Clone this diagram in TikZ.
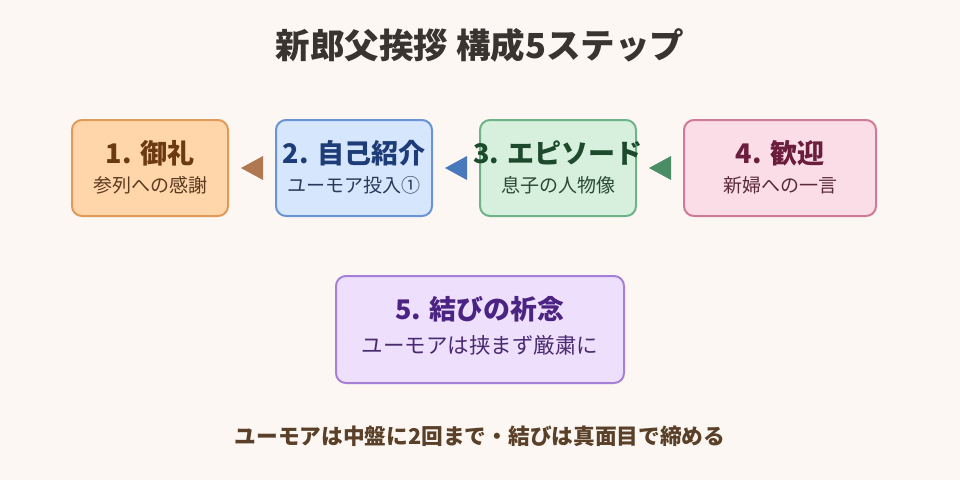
\documentclass[tikz,border=0pt]{standalone}
\usepackage{fontspec}
\setmainfont{Noto Sans CJK JP}
\usetikzlibrary{calc}
\definecolor{bg}{HTML}{FCF7F2}
\definecolor{f1}{HTML}{FFD5AA}\definecolor{d1}{HTML}{E09A5A}\definecolor{t1}{HTML}{6B3A12}\definecolor{s1}{HTML}{5A3A20}
\definecolor{f2}{HTML}{D6E6FC}\definecolor{d2}{HTML}{6B93D6}\definecolor{t2}{HTML}{1E3C78}\definecolor{s2}{HTML}{2A3A5A}
\definecolor{f3}{HTML}{D6F0DD}\definecolor{d3}{HTML}{6DB387}\definecolor{t3}{HTML}{1D4A2C}\definecolor{s3}{HTML}{2A4A35}
\definecolor{f4}{HTML}{FADDE7}\definecolor{d4}{HTML}{D07A9A}\definecolor{t4}{HTML}{6B1E3C}\definecolor{s4}{HTML}{5A2A3A}
\definecolor{f5}{HTML}{EEE0FC}\definecolor{d5}{HTML}{A67FD6}\definecolor{t5}{HTML}{4B2382}\definecolor{s5}{HTML}{4A2A70}
\definecolor{a1}{HTML}{B07850}\definecolor{a2}{HTML}{4A78BC}\definecolor{a3}{HTML}{4A8C64}
\definecolor{ttl}{HTML}{3A3430}\definecolor{ftr}{HTML}{5A4028}
\tikzset{
  stepbox/.style={draw, line width=2pt, rounded corners=10pt, inner sep=0pt},
  boxtitle/.style={font=\fontsize{27}{32}\selectfont\bfseries, inner sep=0pt, anchor=center},
  boxsub/.style={font=\fontsize{19}{23}\selectfont, inner sep=0pt, anchor=center},
}
\begin{document}
\begin{tikzpicture}[x=1pt,y=-1pt]
\fill[bg] (0,0) rectangle (960,480);
\useasboundingbox (0,0) rectangle (960,480);
\node[font=\fontsize{34.5}{40}\selectfont\bfseries, text=ttl, inner sep=0pt] (title) at (480,45) {新郎父挨拶 構成5ステップ};
% boxes
\node[stepbox, fill=f1, draw=d1, minimum width=156pt, minimum height=96pt] (b1) at (150,168) {};
\node[stepbox, fill=f2, draw=d2, minimum width=156pt, minimum height=96pt] (b2) at (354,168) {};
\node[stepbox, fill=f3, draw=d3, minimum width=156pt, minimum height=96pt] (b3) at (558,168) {};
\node[stepbox, fill=f4, draw=d4, minimum width=192pt, minimum height=96pt] (b4) at (780,168) {};
\node[stepbox, fill=f5, draw=d5, minimum width=288pt, minimum height=107pt] (b5) at (480,329.5) {};
% texts
\node[boxtitle, text=t1] (b1t) at (150,153) {1. 御礼};
\node[boxsub, text=s1] (b1s) at (150,185) {参列への感謝};
\node[boxtitle, text=t2] (b2t) at (354,153) {2. 自己紹介};
\node[boxsub, text=s2] (b2s) at (354,185) {ユーモア投入①};
\node[boxtitle, text=t3] (b3t) at (558,153) {3. エピソード};
\node[boxsub, text=s3] (b3s) at (558,185) {息子の人物像};
\node[boxtitle, text=t4] (b4t) at (780,153) {4. 歓迎};
\node[boxsub, text=s4] (b4s) at (780,185) {新婦への一言};
\node[boxtitle, text=t5] (b5t) at (480,309) {5. 結びの祈念};
\node[font=\fontsize{21.5}{26}\selectfont, text=s5, inner sep=0pt] (b5s) at (480,345) {ユーモアは挟まず厳粛に};
% arrows (triangle heads pointing left)
\fill[a1] ($(b2.west)+(-12,-12)$) -- ($(b2.west)+(-12,12)$) -- ($(b1.east)+(12,0)$) -- cycle;
\fill[a2] ($(b3.west)+(-12,-12)$) -- ($(b3.west)+(-12,12)$) -- ($(b2.east)+(12,0)$) -- cycle;
\fill[a3] ($(b4.west)+(-12,-12)$) -- ($(b4.west)+(-12,12)$) -- ($(b3.east)+(12,0)$) -- cycle;
\node[font=\fontsize{21.7}{26}\selectfont\bfseries, text=ftr, inner sep=0pt] (foot) at (480,436) {ユーモアは中盤に2回まで・結びは真面目で締める};
\end{tikzpicture}
\end{document}
